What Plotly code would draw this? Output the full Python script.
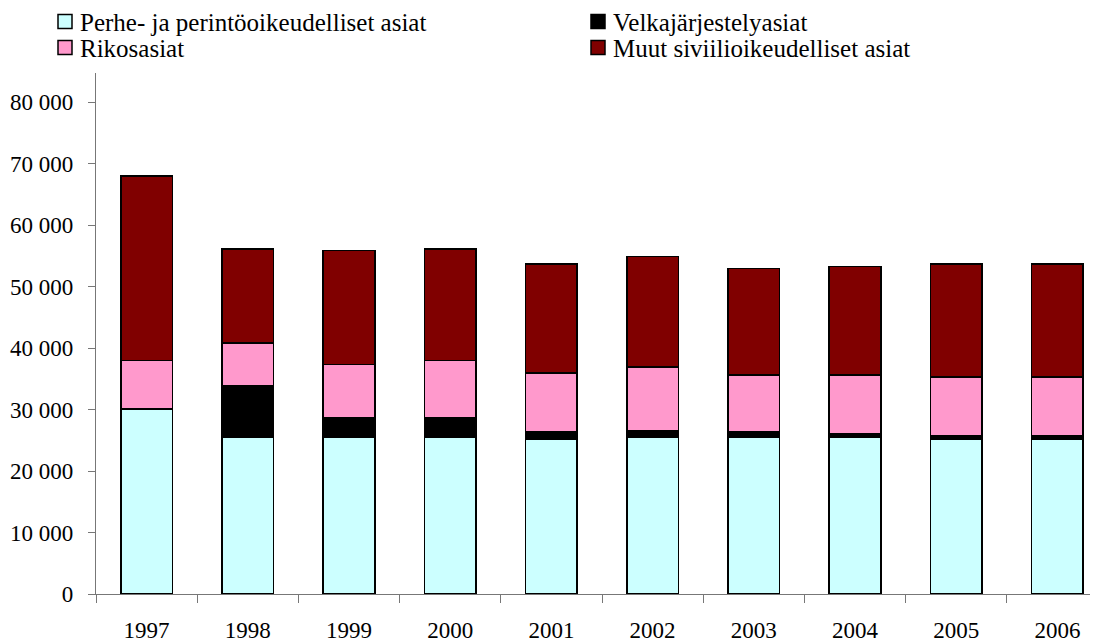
import plotly.graph_objects as go

years = ["1997", "1998", "1999", "2000", "2001", "2002", "2003", "2004", "2005", "2006"]
perhe = [30100, 25450, 25450, 25450, 25150, 25450, 25450, 25450, 25150, 25150]
velka = [0, 8350, 3150, 3150, 1200, 1150, 870, 550, 540, 540]
riko = [7900, 7050, 8750, 9400, 9600, 10300, 9300, 9600, 9650, 9650]
muut = [30000, 15300, 18550, 18150, 17700, 18000, 17350, 17700, 18300, 18300]

names = ["Perhe- ja perintöoikeudelliset asiat", "Velkajärjestelyasiat",
         "Rikosasiat", "Muut siviilioikeudelliset asiat"]
colors = ["#CCFFFF", "#000000", "#FF99CC", "#800000"]

ytickvals = [0, 10000, 20000, 30000, 40000, 50000, 60000, 70000, 80000]
yticktext = ["0", "10 000", "20 000", "30 000", "40 000", "50 000", "60 000", "70 000", "80 000"]

FONT = "Liberation Serif"
W, H = 1098, 643
OFF = 8  # page body margin
ML, MR, MT, MB = 88, 0, 65, 57
PW, PH = W - ML - MR, H - MT - MB


def px_x(sx):
    return (sx - OFF - ML) / PW


def px_y(sy):
    return (H - MB - (sy - OFF)) / PH


fig = go.Figure()
for name, vals, col in zip(names, [perhe, velka, riko, muut], colors):
    fig.add_trace(go.Bar(
        x=years, y=vals, name=name, showlegend=False,
        marker=dict(color=col, line=dict(color="black", width=1.6)),
    ))

# manual two-column legend (marker left x, row centre y, in screen pixels)
legend_pos = [(58, 21.5), (591, 21.5), (58, 47.5), (591, 47.5)]
for (mx, my), name, col in zip(legend_pos, names, colors):
    fig.add_shape(type="rect", xref="paper", yref="paper",
                  x0=px_x(mx), x1=px_x(mx + 14), y0=px_y(my + 7), y1=px_y(my - 7),
                  fillcolor=col, line=dict(color="black", width=1.5))
    fig.add_annotation(text=name, xref="paper", yref="paper",
                       x=px_x(mx + 20), y=px_y(my + 1), xanchor="left", yanchor="middle",
                       showarrow=False, font=dict(family=FONT, size=25, color="black"))

fig.update_layout(
    width=W, height=H,
    barmode="stack", bargap=0.49, showlegend=False,
    plot_bgcolor="white", paper_bgcolor="white",
    margin=dict(l=ML, r=MR, t=MT, b=MB, autoexpand=False),
    font=dict(family=FONT, size=23, color="black"),
)

fig.update_xaxes(
    range=[-0.5, 9.48], showline=True, linecolor="#777777", linewidth=1.2,
    ticks="outside", tickson="boundaries", ticklen=8, tickcolor="#777777",
    showgrid=False, ticklabelstandoff=15, tickfont=dict(size=23), tickangle=0,
    automargin=False,
)
fig.update_yaxes(
    range=[0, 84750], showline=True, linecolor="#777777", linewidth=1.2,
    ticks="outside", ticklen=7, tickcolor="#777777", showgrid=False,
    tickvals=ytickvals, ticktext=yticktext, ticklabelstandoff=10,
    tickfont=dict(size=23), zeroline=False, automargin=False,
)

fig.write_html("out.html")
